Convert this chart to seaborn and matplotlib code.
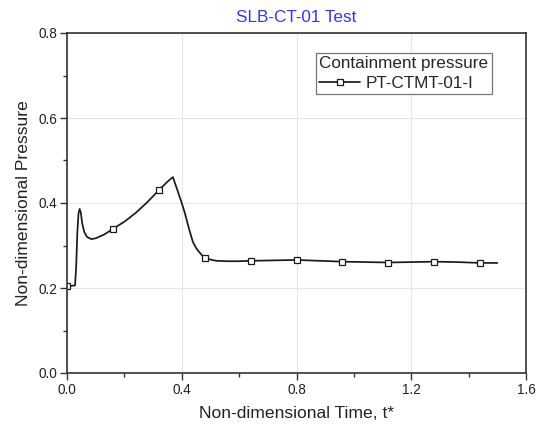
import matplotlib
matplotlib.use("Agg")
import matplotlib.pyplot as plt
import seaborn as sns
import pandas as pd
from matplotlib.ticker import MultipleLocator

# Data
time_vals = [0.000, 0.015, 0.028, 0.032, 0.036, 0.040, 0.044, 0.048, 0.053, 0.060,
             0.070, 0.085, 0.100, 0.130, 0.160, 0.200, 0.240, 0.280, 0.320, 0.350,
             0.369, 0.385, 0.400, 0.411, 0.425, 0.439, 0.452, 0.464, 0.480, 0.520,
             0.560, 0.600, 0.640, 0.720, 0.800, 0.880, 0.960, 1.040, 1.120, 1.200,
             1.280, 1.360, 1.440, 1.500]
pressure_vals = [0.205, 0.205, 0.206, 0.250, 0.330, 0.375, 0.386, 0.378, 0.352, 0.332,
                 0.320, 0.315, 0.317, 0.326, 0.339, 0.356, 0.377, 0.402, 0.430, 0.450,
                 0.461, 0.430, 0.400, 0.376, 0.340, 0.308, 0.292, 0.282, 0.270, 0.264,
                 0.263, 0.263, 0.264, 0.265, 0.266, 0.264, 0.262, 0.261, 0.260, 0.261,
                 0.262, 0.261, 0.259, 0.259]
marker_times = [0.0, 0.16, 0.32, 0.48, 0.64, 0.80, 0.96, 1.12, 1.28, 1.44]
series_name = "PT-CTMT-01-I"
legend_title = "Containment pressure"
x_ticks = [0.0, 0.4, 0.8, 1.2, 1.6]
y_ticks = [0.0, 0.2, 0.4, 0.6, 0.8]

df = pd.DataFrame({"t": time_vals, "p": pressure_vals, "series": series_name})
mark_idx = [min(range(len(time_vals)), key=lambda i: abs(time_vals[i] - m)) for m in marker_times]

sns.set_theme(style="ticks")
plt.rcParams["font.family"] = ["Liberation Sans", "DejaVu Sans"]

fig = plt.figure(figsize=(5.37, 4.32), dpi=100)
ax = fig.add_axes([67/537, 1 - 373/432, (526-67)/537, (373-33)/432])

sns.lineplot(data=df, x="t", y="p", hue="series", palette=["#1a1a1a"],
             estimator=None, sort=False, ax=ax, linewidth=1.25,
             marker="s", markersize=5, markerfacecolor="white",
             markeredgecolor="#1a1a1a", markeredgewidth=0.9, markevery=mark_idx)

ax.set_xlim(0, 1.6)
ax.set_ylim(0, 0.8)
ax.set_xticks(x_ticks)
ax.set_yticks(y_ticks)
ax.set_xticklabels([f"{v:.1f}" for v in x_ticks])
ax.set_yticklabels([f"{v:.1f}" for v in y_ticks])
ax.xaxis.set_minor_locator(MultipleLocator(0.2))
ax.yaxis.set_minor_locator(MultipleLocator(0.1))
ax.tick_params(which="major", direction="out", length=5, width=1, colors="#333333",
               labelsize=9.8, labelcolor="#222222", pad=2)
ax.tick_params(which="minor", direction="out", length=3, width=1, colors="#333333")
ax.grid(True, which="major", color="#e6e6e6", linewidth=0.8)
ax.set_axisbelow(True)
for s in ax.spines.values():
    s.set_visible(True)
    s.set_color("#333333")
    s.set_linewidth(1.2)

ax.set_xlabel("Non-dimensional Time, t*", fontsize=12.6, color="#222222", labelpad=7)
ax.set_ylabel("Non-dimensional Pressure", fontsize=12.6, color="#222222", labelpad=5)
ax.set_title("SLB-CT-01 Test", fontsize=12.3, color="#3333ff", pad=8)

handles, labels = ax.get_legend_handles_labels()
leg = ax.legend(handles, labels, title=legend_title, loc="upper left",
                bbox_to_anchor=((316-67)/459, (373-53)/340), borderaxespad=0,
                fontsize=12.3, title_fontsize=12.3, frameon=True, fancybox=False,
                edgecolor="#777777", framealpha=1, borderpad=0.2,
                handlelength=2.4, handletextpad=0.3, labelspacing=0.1)
leg._legend_box.align = "left"
leg._legend_box.sep = 3
leg.get_frame().set_linewidth(0.9)

fig.savefig("out.png", dpi=100, facecolor="white")
